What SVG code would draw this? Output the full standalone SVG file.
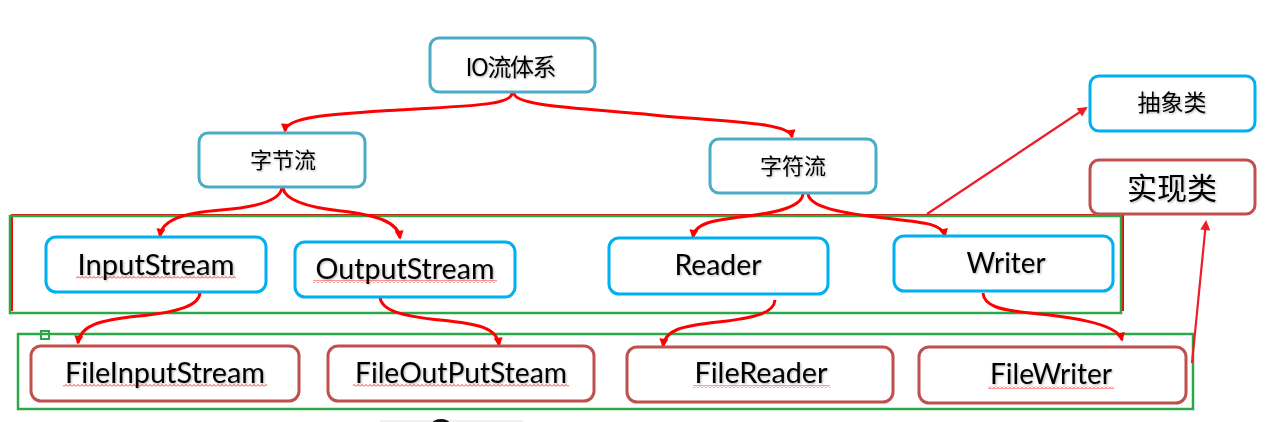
<svg xmlns="http://www.w3.org/2000/svg" width="1283" height="422" viewBox="0 0 1283 422">
<defs>
<style>
.box{fill:#fff;stroke-width:3}
.teal{stroke:#4BACC6}
.cyan{stroke:#00B0F0}
.brown{stroke:#C0504D}
.grp{fill:none;stroke:#2BA84A;stroke-width:2.5}
.lat{font-family:Lato,"Open Sans",sans-serif;font-size:29px;fill:#000;text-anchor:middle}
.cjk{font-family:"Noto Sans CJK SC",sans-serif;fill:#000;text-anchor:middle}
.con{fill:none;stroke:#FF0000;stroke-width:3;marker-end:url(#ah)}
.str{fill:none;stroke:#EE1C25;stroke-width:2.2;marker-end:url(#ah2)}
.sq{fill:url(#wave)}
</style>
<marker id="ah" viewBox="0 0 10 10" refX="8" refY="5" markerWidth="10" markerHeight="9" markerUnits="userSpaceOnUse" orient="auto">
<path d="M0,0 L10,5 L0,10 z" fill="#FF0000"/>
</marker>
<marker id="ah2" viewBox="0 0 10 10" refX="8" refY="5" markerWidth="12" markerHeight="10" markerUnits="userSpaceOnUse" orient="auto">
<path d="M0,0 L10,5 L0,10 z" fill="#EE1C25"/>
</marker>
<pattern id="wave" width="4" height="3" patternUnits="userSpaceOnUse">
<path d="M0,2.5 L2,0.5 L4,2.5" fill="none" stroke="#FF0000" stroke-width="0.8"/>
</pattern>
<filter id="sh" x="-10%" y="-20%" width="120%" height="150%">
<feDropShadow dx="1" dy="1" stdDeviation="0.8" flood-color="#000" flood-opacity="0.3"/>
</filter>
</defs>
<rect width="1283" height="422" fill="#fff"/>

<g id="groups">
<path d="M12,311 L12,215 L1123,215 L1123,311" fill="none" stroke="#FF0000" stroke-width="2"/>
<rect class="grp" x="10" y="216" width="1111" height="97"/>
<rect class="grp" x="18" y="334" width="1175" height="75"/>
<rect x="41" y="331" width="8" height="8" fill="none" stroke="#2BA84A" stroke-width="2"/>
</g>

<g id="connectors">
<path class="con" d="M512,93 C512,106 460,106 398,110 S286,116 285,131"/>
<path class="con" d="M514,93 C514,106 580,108 653,115 S790,122 792,137"/>
<path class="con" d="M282,188 C280,200 260,207 221,210 S162,220 160,236"/>
<path class="con" d="M283,188 C285,200 305,207 341,211 S398,222 400,238"/>
<path class="con" d="M803,194 C802,206 780,212 748,216 S695,222 693,237"/>
<path class="con" d="M808,194 C810,206 835,212 876,217 S942,222 945,236"/>
<path class="con" d="M200,292 C200,305 180,312 139,316 S80,326 78,343"/>
<path class="con" d="M380,297 C381,310 400,316 440,320 S497,328 499,345"/>
<path class="con" d="M775,300 C774,313 755,318 718,322 S665,330 663,346"/>
<path class="con" d="M983,293 C984,306 1000,310 1030,313 S1118,322 1122,340"/>
<path class="str" d="M927,214 L1086,108"/>
<path class="str" d="M1192,363 L1206,222"/>
</g>

<g id="n-io">
<rect class="box teal" x="430" y="38" width="165" height="54" rx="9"/>
<text class="cjk" x="511" y="76" font-size="24" textLength="91" filter="url(#sh)">IO流体系</text>
</g>
<g id="n-byte">
<rect class="box teal" x="199" y="133" width="166" height="54" rx="9"/>
<text class="cjk" x="283" y="168" font-size="22" filter="url(#sh)">字节流</text>
</g>
<g id="n-char">
<rect class="box teal" x="710" y="139" width="166" height="54" rx="9"/>
<text class="cjk" x="793" y="174" font-size="22" filter="url(#sh)">字符流</text>
</g>
<g id="n-abstract">
<rect class="box cyan" x="1090" y="76" width="165" height="55" rx="9"/>
<text class="cjk" x="1172" y="111" font-size="23" filter="url(#sh)">抽象类</text>
</g>
<g id="n-impl">
<rect class="box brown" x="1090" y="160" width="165" height="54" rx="9"/>
<text class="cjk" x="1172" y="199" font-size="30" filter="url(#sh)">实现类</text>
</g>

<g id="n-inputstream">
<rect class="box cyan" x="46" y="237" width="220" height="55" rx="10"/>
<rect class="sq" x="76" y="276" width="160" height="3"/>
<text class="lat" x="156" y="275" textLength="157" lengthAdjust="spacingAndGlyphs" filter="url(#sh)">InputStream</text>
</g>
<g id="n-outputstream">
<rect class="box cyan" x="295" y="242" width="220" height="55" rx="10"/>
<rect class="sq" x="313" y="280" width="184" height="3"/>
<text class="lat" x="405" y="279" textLength="179" lengthAdjust="spacingAndGlyphs" filter="url(#sh)">OutputStream</text>
</g>
<g id="n-reader">
<rect class="box cyan" x="609" y="238" width="219" height="56" rx="10"/>
<text class="lat" x="718" y="275" textLength="87" lengthAdjust="spacingAndGlyphs" filter="url(#sh)">Reader</text>
</g>
<g id="n-writer">
<rect class="box cyan" x="894" y="236" width="219" height="55" rx="10"/>
<text class="lat" x="1006" y="273" textLength="79" lengthAdjust="spacingAndGlyphs" filter="url(#sh)">Writer</text>
</g>

<g id="n-fileinputstream">
<rect class="box brown" x="31" y="346" width="268" height="55" rx="10"/>
<rect class="sq" x="63" y="384" width="204" height="3"/>
<text class="lat" x="165" y="383" textLength="200" lengthAdjust="spacingAndGlyphs" filter="url(#sh)">FileInputStream</text>
</g>
<g id="n-fileoutputsteam">
<rect class="box brown" x="328" y="346" width="266" height="55" rx="10"/>
<rect class="sq" x="353" y="384" width="216" height="3"/>
<text class="lat" x="461" y="383" textLength="212" lengthAdjust="spacingAndGlyphs" filter="url(#sh)">FileOutPutSteam</text>
</g>
<g id="n-filereader">
<rect class="box brown" x="627" y="347" width="266" height="55" rx="10"/>
<rect class="sq" x="693" y="385" width="137" height="3"/>
<text class="lat" x="761" y="383" textLength="133" lengthAdjust="spacingAndGlyphs" filter="url(#sh)">FileReader</text>
</g>
<g id="n-filewriter">
<rect class="box brown" x="919" y="347" width="267" height="56" rx="10"/>
<rect class="sq" x="988" y="386" width="126" height="3"/>
<text class="lat" x="1051" y="384" textLength="122" lengthAdjust="spacingAndGlyphs" filter="url(#sh)">FileWriter</text>
</g>

<g id="fragment">
<rect x="380" y="420" width="143" height="2" fill="#F2F2F2"/>
<ellipse cx="441" cy="424" rx="9" ry="5" fill="#111"/>
</g>
</svg>
